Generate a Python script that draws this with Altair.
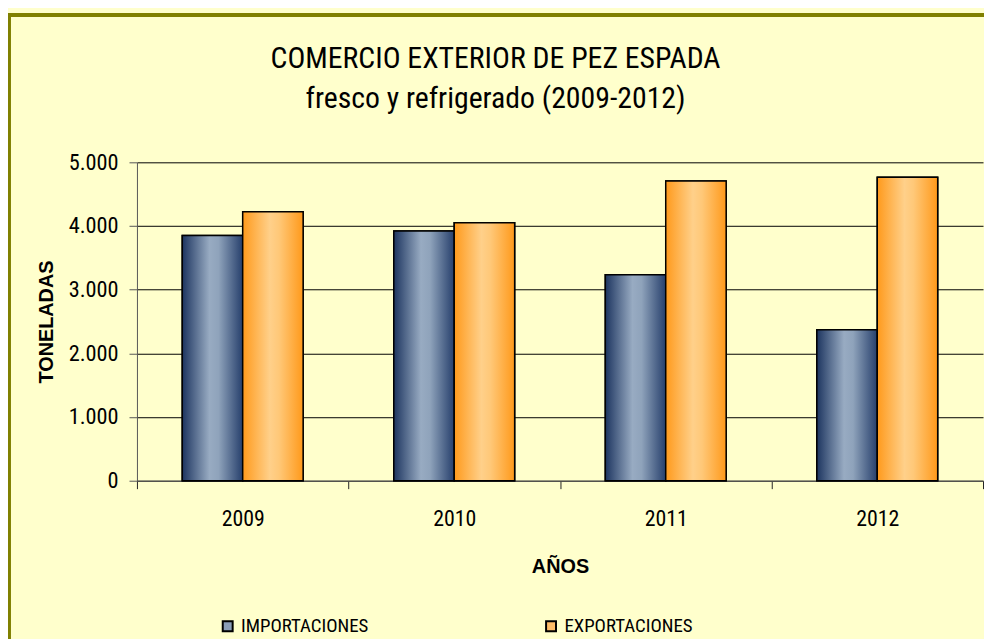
import altair as alt
import pandas as pd

years = ["2009", "2010", "2011", "2012"]
series = ["IMPORTACIONES", "EXPORTACIONES"]
importaciones = [3850, 3920, 3235, 2370]
exportaciones = [4225, 4050, 4705, 4765]
y_ticks = [0, 1000, 2000, 3000, 4000, 5000]

rows = []
for i, yr in enumerate(years):
    rows.append({"year": yr, "series": series[0], "value": importaciones[i]})
    rows.append({"year": yr, "series": series[1], "value": exportaciones[i]})
df = pd.DataFrame(rows)

NARROW = "Liberation Sans Narrow, Arial Narrow, Roboto Condensed, Noto Sans Condensed, DejaVu Sans Condensed, sans-serif"
BOLD = "Liberation Sans, Arial, sans-serif"

grad_blue = {
    "gradient": "linear", "x1": 0, "x2": 1, "y1": 0, "y2": 0,
    "stops": [
        {"offset": 0, "color": "#1d3560"},
        {"offset": 0.45, "color": "#98abc2"},
        {"offset": 0.6, "color": "#8fa3bb"},
        {"offset": 1, "color": "#263f6c"},
    ],
}
grad_orange = {
    "gradient": "linear", "x1": 0, "x2": 1, "y1": 0, "y2": 0,
    "stops": [
        {"offset": 0, "color": "#ff9a1c"},
        {"offset": 0.45, "color": "#ffd08a"},
        {"offset": 0.6, "color": "#ffc878"},
        {"offset": 1, "color": "#ff991a"},
    ],
}

x_enc = alt.X(
    "year:N", sort=years,
    scale=alt.Scale(paddingInner=0, paddingOuter=0),
    axis=alt.Axis(
        title="AÑOS", labelAngle=0, tickBand="extent", tickSize=8,
        labelPadding=20, labelFont=NARROW, labelFontSize=22, labelColor="black",
        titleFont=BOLD, titleFontSize=20, titleFontWeight="bold", titleColor="black",
        titlePadding=28, domainColor="#555555", tickColor="#222222",
    ),
)
xoff_enc = alt.XOffset("series:N", sort=series,
                       scale=alt.Scale(domain=series, paddingInner=0, paddingOuter=0.75))
y_enc = alt.Y(
    "value:Q",
    scale=alt.Scale(domain=[0, 5000], nice=False),
    axis=alt.Axis(
        values=y_ticks, title="TONELADAS", grid=True, gridColor="#000000", gridWidth=1,
        labelExpr="replace(format(datum.value, ','), ',', '.')",
        tickSize=8, labelPadding=11, labelFont=NARROW, labelFontSize=22.5, labelColor="black",
        titleFont=BOLD, titleFontSize=20, titleFontWeight="bold", titleColor="black",
        titlePadding=12, domainColor="#555555", tickColor="#555555",
    ),
)

legend_layer = alt.Chart(df).mark_bar(stroke="black", strokeWidth=1.5).encode(
    x=x_enc, xOffset=xoff_enc, y=y_enc,
    color=alt.Color(
        "series:N", sort=series,
        scale=alt.Scale(domain=series, range=["#8a9db8", "#ffbd68"]),
        legend=alt.Legend(
            title=None, orient="none", legendX=82, legendY=458, direction="horizontal",
            symbolType="square", symbolSize=100, symbolStrokeColor="black",
            symbolStrokeWidth=2, labelFont=NARROW, labelFontSize=19, labelColor="black",
            labelOffset=4, columnPadding=174,
        ),
    ),
)

imp_layer = alt.Chart(df).transform_filter(alt.datum.series == series[0]).mark_bar(
    fill=grad_blue, stroke="black", strokeWidth=1.5
).encode(x=x_enc, xOffset=xoff_enc, y=y_enc)

exp_layer = alt.Chart(df).transform_filter(alt.datum.series == series[1]).mark_bar(
    fill=grad_orange, stroke="black", strokeWidth=1.5
).encode(x=x_enc, xOffset=xoff_enc, y=y_enc)

frame = pd.DataFrame({"k": [0]})
top_border = alt.Chart(frame).mark_rule(color="#808000", strokeWidth=4).encode(
    x=alt.value(-130), x2=alt.value(860), y=alt.value(-148.5), y2=alt.value(-148.5)
)
left_border = alt.Chart(frame).mark_rule(color="#808000", strokeWidth=3).encode(
    x=alt.value(-128.5), x2=alt.value(-128.5), y=alt.value(-150), y2=alt.value(485)
)

chart = alt.layer(legend_layer, imp_layer, exp_layer, top_border, left_border).properties(
    width=853, height=321,
    title=alt.TitleParams(
        text=["COMERCIO EXTERIOR DE PEZ ESPADA", "fresco y refrigerado (2009-2012)"],
        font=NARROW, fontSize=30, fontWeight="normal", lineHeight=41,
        anchor="middle", frame="group", dx=-65, offset=-103, color="black",
    ),
    autosize=alt.AutoSizeParams(type="none"),
    padding={"left": 130, "top": 153, "right": 1, "bottom": 157},
    background="#FFFFCC",
).configure_view(strokeOpacity=0)

chart.save("out.html", embed_options={"renderer": "svg", "actions": False})
